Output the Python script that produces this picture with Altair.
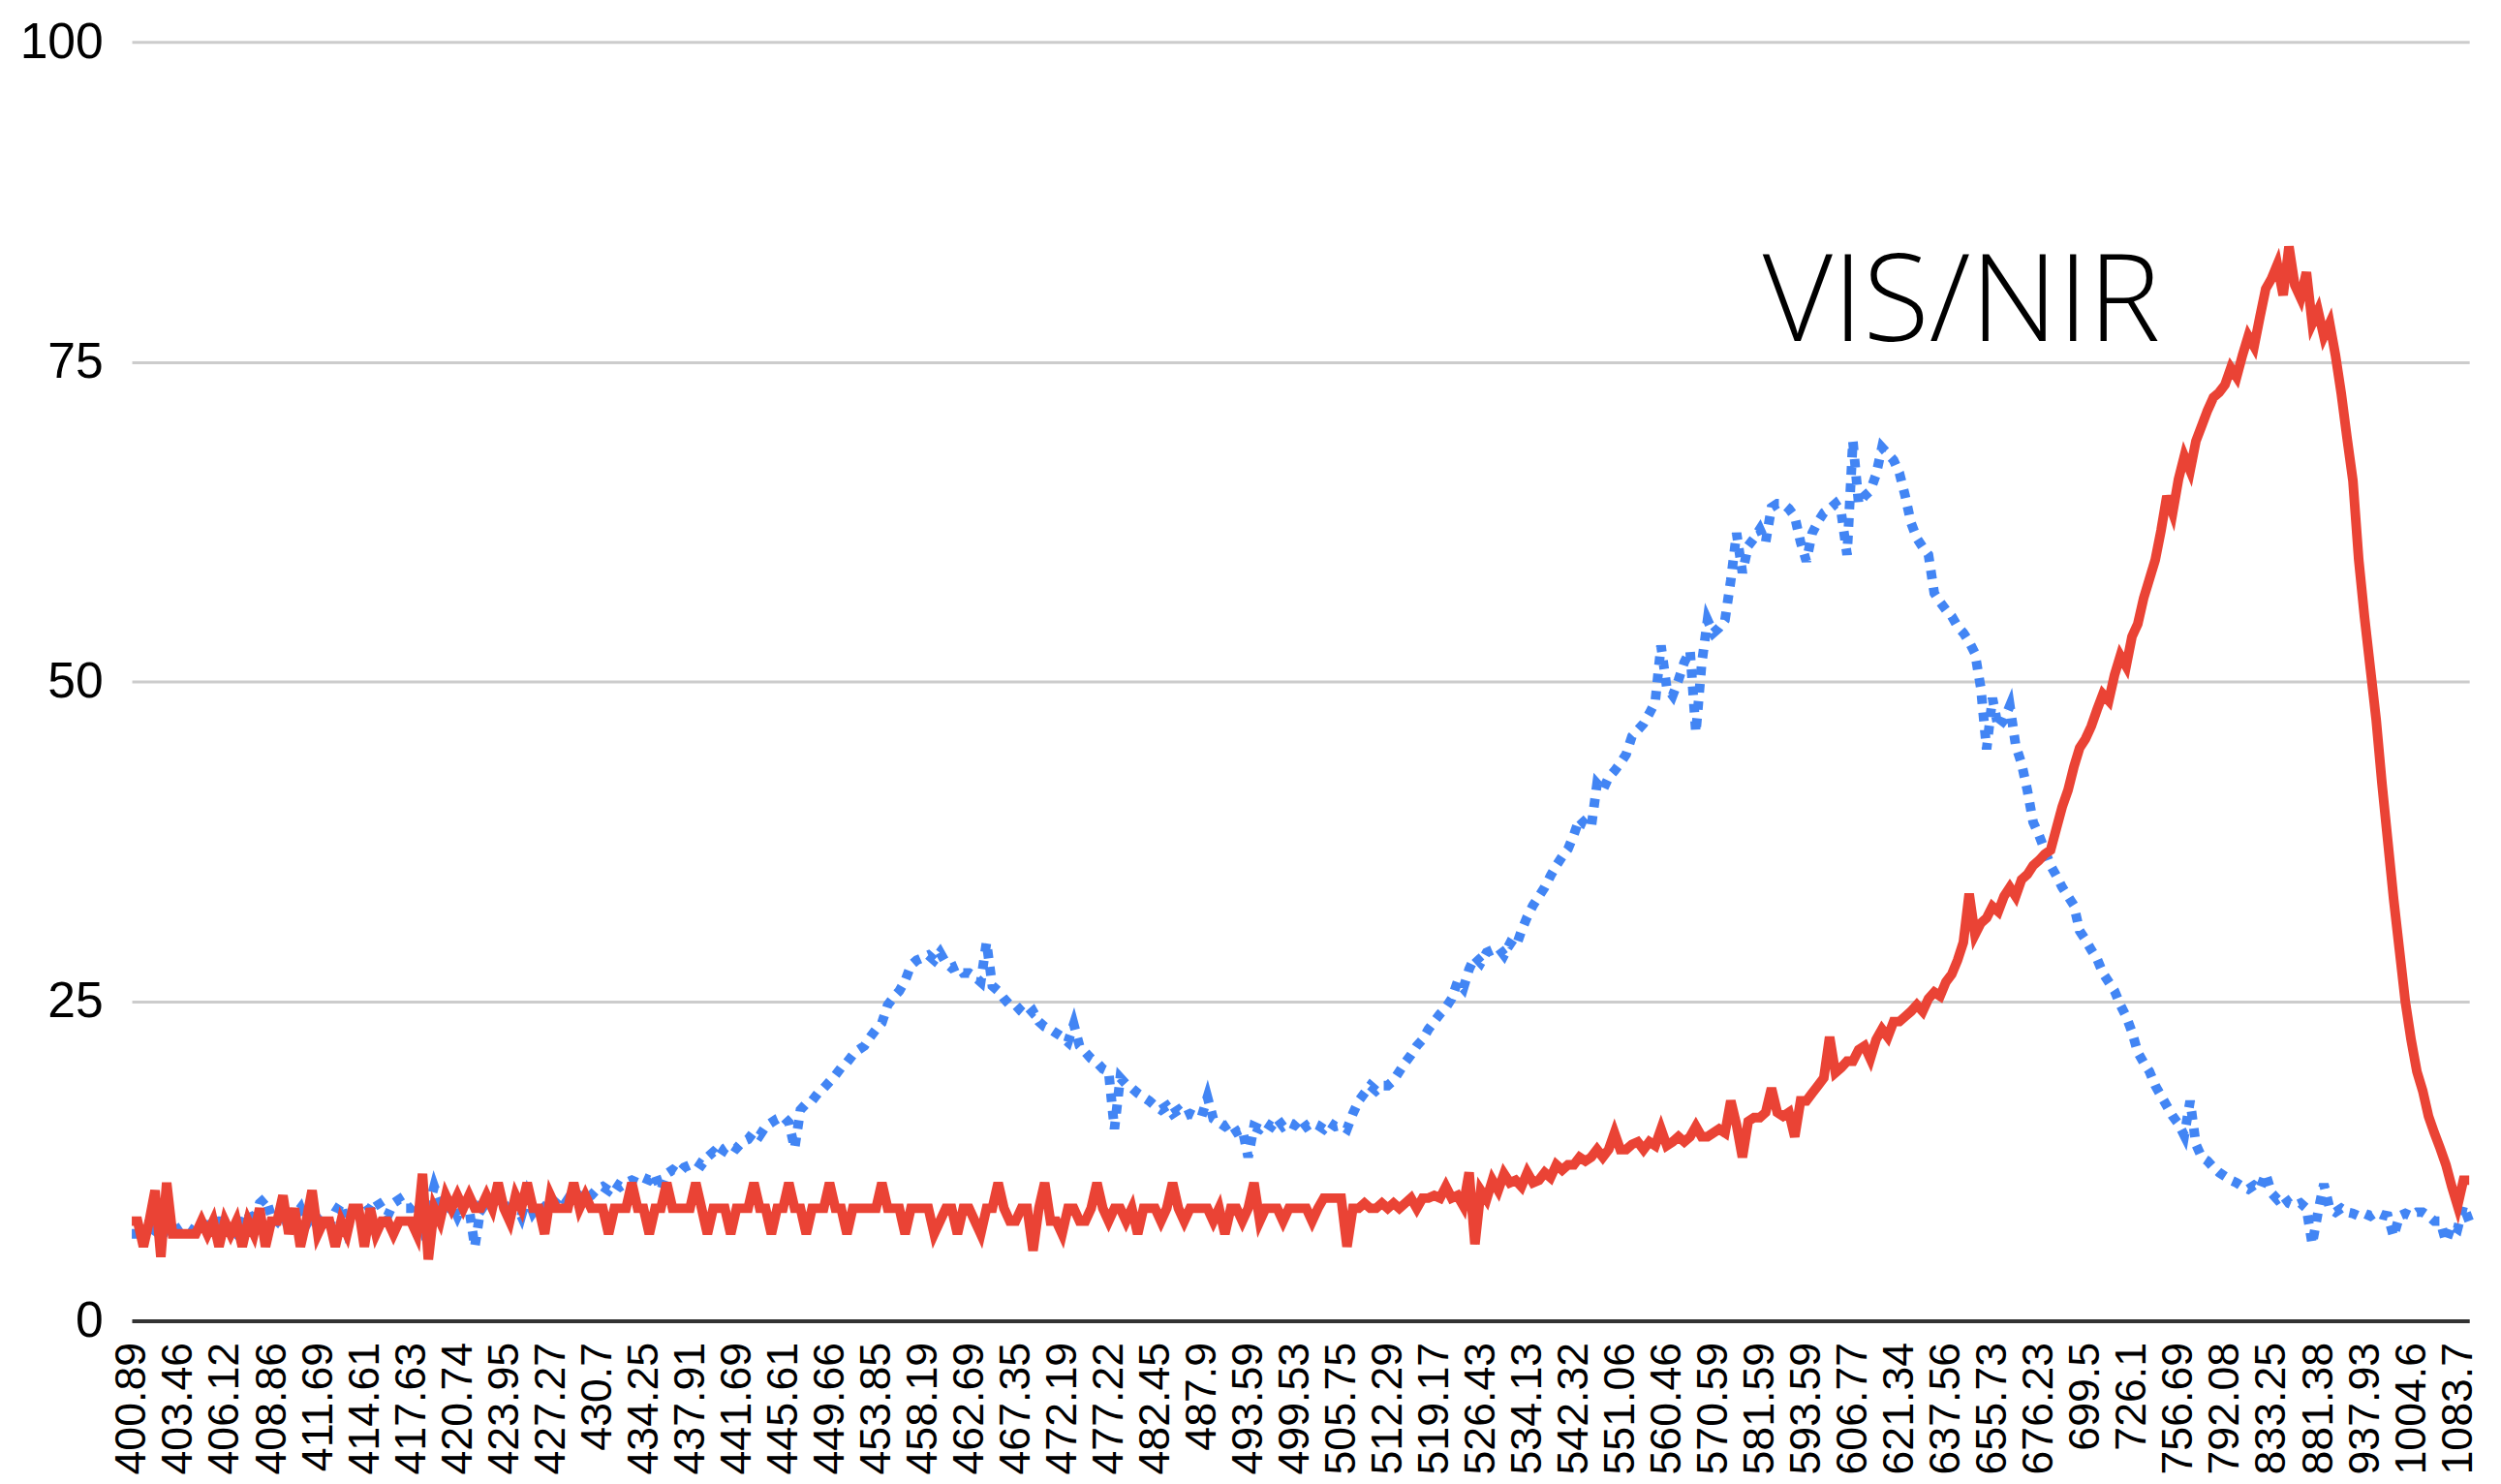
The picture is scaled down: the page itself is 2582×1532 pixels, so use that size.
import altair as alt
import pandas as pd

# Category labels shown on the x axis (every 8th sample)
x_labels = [
    "400.89", "403.46", "406.12", "408.86", "411.69", "414.61", "417.63", "420.74",
    "423.95", "427.27", "430.7", "434.25", "437.91", "441.69", "445.61", "449.66",
    "453.85", "458.19", "462.69", "467.35", "472.19", "477.22", "482.45", "487.9",
    "493.59", "499.53", "505.75", "512.29", "519.17", "526.43", "534.13", "542.32",
    "551.06", "560.46", "570.59", "581.59", "593.59", "606.77", "621.34", "637.56",
    "655.73", "676.23", "699.5", "726.1", "756.69", "792.08", "833.25", "881.38",
    "937.93", "1004.6", "1083.7",
]
STEP = 8  # samples per labelled category

# Blue dotted series (VIS)
vis = [
    6.8, 6.8, 7.5, 6.5, 7.2, 6.5, 7.2, 7.2,
    7.2, 7.5, 7.2, 6.8, 7.2, 7.5, 7.5, 7.8,
    7.8, 7.2, 6.8, 8.2, 8.5, 7.5, 9.2, 9.6,
    8.2, 7.8, 8.5, 7.2, 8.2, 8.8, 7.5, 8.2,
    7.8, 8.2, 7.5, 8.5, 9.2, 7.2, 8.2, 8.8,
    8.5, 8.8, 9.5, 8.8, 8.2, 9.2, 9.5, 8.8,
    8.8, 9.2, 7.5, 8.8, 10.5, 9.2, 8.5, 9.2,
    8.2, 9.2, 8.8, 5.8, 8.8, 8.5, 9.2, 9.5,
    9.2, 8.5, 9.2, 8.2, 9.8, 8.5, 9.2, 8.8,
    8.5, 9.2, 8.8, 9.5, 9.2, 9.8, 9.5, 9.8,
    10.3, 10.5, 10.2, 10.8, 10.5, 10.8, 11.0, 10.8,
    11.2, 11.0, 11.5, 10.2, 11.5, 11.8, 11.5, 12.0,
    12.2, 12.5, 12.2, 12.8, 13.2, 12.8, 13.5, 13.8,
    13.5, 14.0, 14.2, 14.8, 14.5, 15.2, 15.5, 15.8,
    16.0, 15.5, 13.5, 16.5, 17.0, 17.2, 17.8, 18.2,
    18.7, 19.2, 19.8, 20.2, 20.8, 21.2, 21.5, 22.2,
    22.8, 23.3, 24.7, 25.3, 25.8, 26.6, 27.8, 28.2,
    28.4, 28.6, 28.2, 28.8, 28.0, 27.6, 27.8, 27.2,
    27.2, 26.9, 26.5, 29.6, 26.2, 25.8, 25.2, 24.7,
    24.7, 24.2, 23.8, 24.2, 23.4, 23.0, 22.8, 22.5,
    22.2, 21.8, 23.2, 21.5, 21.0, 20.5, 20.2, 19.7,
    19.5, 15.0, 19.0, 18.5, 18.2, 17.8, 17.5, 17.2,
    16.8, 16.5, 16.8, 16.2, 16.5, 16.0, 16.2, 16.0,
    16.0, 17.5, 15.8, 15.5, 15.2, 15.5, 14.8, 15.0,
    12.8, 15.2, 15.0, 15.5, 15.2, 15.8, 15.2, 15.5,
    15.3, 15.8, 15.2, 15.5, 15.3, 15.0, 15.5, 15.2,
    15.3, 15.0, 16.2, 17.2, 17.8, 18.4, 18.0, 18.4,
    18.4, 18.8, 19.5, 20.2, 20.8, 21.5, 22.0, 22.8,
    23.4, 24.0, 24.5, 25.2, 26.5, 26.0, 27.5, 28.5,
    28.0, 28.8, 29.0, 29.2, 28.6, 29.5, 29.2, 30.5,
    31.6, 32.5, 33.2, 33.9, 34.8, 35.6, 36.3, 36.9,
    38.0, 39.3, 38.8, 38.6, 42.0, 41.5, 42.5, 43.0,
    43.6, 44.3, 45.7, 46.2, 46.7, 47.5, 48.4, 52.8,
    49.5, 48.9, 50.1, 51.5, 52.4, 46.0, 51.4, 54.8,
    53.8, 54.2, 54.8, 57.9, 61.6, 58.5, 60.6, 61.2,
    61.9, 60.9, 63.6, 63.9, 63.9, 63.5, 62.9, 60.9,
    59.4, 61.6, 62.5, 63.2, 63.5, 63.9, 63.2, 59.9,
    68.8, 63.9, 64.5, 64.9, 66.2, 68.3, 67.8, 67.3,
    66.3, 64.5, 62.4, 61.2, 60.5, 59.9, 56.9, 56.2,
    55.6, 55.1, 54.3, 53.8, 53.1, 52.2, 49.5, 44.7,
    48.7, 46.4, 47.0, 48.1, 45.0, 43.6, 41.5, 39.0,
    38.0, 36.8, 35.6, 34.8, 33.9, 33.2, 32.5, 30.5,
    29.8, 29.0, 28.3, 27.2, 26.5, 25.8, 24.7, 23.8,
    22.6, 21.0, 20.2, 19.5, 18.4, 17.6, 16.8, 16.0,
    15.4, 14.5, 17.2, 13.8, 12.8, 12.5, 12.0, 11.6,
    11.3, 11.0, 10.8, 10.5, 10.3, 10.6, 10.3, 11.5,
    10.0, 9.5, 9.8, 9.2, 9.0, 9.2, 8.8, 6.0,
    8.5, 10.7, 8.8, 8.5, 8.8, 8.5, 8.4, 8.2,
    8.4, 8.2, 8.5, 8.3, 8.2, 6.6, 8.2, 8.4,
    8.2, 8.5, 8.5, 8.2, 7.8, 7.8, 6.2, 7.5,
    7.2, 9.0, 7.8,
]

# Red solid series (NIR)
nir = [
    7.8, 7.8, 5.8, 7.8, 10.2, 5.0, 10.8, 6.8,
    6.8, 6.8, 6.8, 6.8, 7.8, 6.8, 7.8, 5.8,
    7.8, 6.8, 7.8, 5.8, 7.8, 6.8, 8.8, 5.8,
    7.8, 7.8, 9.8, 6.8, 8.8, 5.8, 7.8, 10.2,
    6.8, 7.8, 7.8, 5.8, 7.8, 6.8, 8.8, 8.8,
    5.8, 8.8, 6.8, 7.8, 7.8, 6.8, 7.8, 7.8,
    7.8, 6.8, 11.5, 4.8, 8.8, 7.8, 9.8, 8.8,
    9.8, 8.8, 9.8, 8.8, 8.8, 9.8, 8.8, 10.8,
    8.8, 7.8, 9.8, 8.8, 10.8, 8.8, 8.8, 6.8,
    9.8, 8.8, 8.8, 8.8, 10.8, 8.8, 9.8, 8.8,
    8.8, 8.8, 6.8, 8.8, 8.8, 8.8, 10.8, 8.8,
    8.8, 6.8, 8.8, 8.8, 10.8, 8.8, 8.8, 8.8,
    8.8, 10.8, 8.8, 6.8, 8.8, 8.8, 8.8, 6.8,
    8.8, 8.8, 8.8, 10.8, 8.8, 8.8, 6.8, 8.8,
    8.8, 10.8, 8.8, 8.8, 6.8, 8.8, 8.8, 8.8,
    10.8, 8.8, 8.8, 6.8, 8.8, 8.8, 8.8, 8.8,
    8.8, 10.8, 8.8, 8.8, 8.8, 6.8, 8.8, 8.8,
    8.8, 8.8, 6.8, 7.8, 8.8, 8.8, 6.8, 8.8,
    8.8, 7.8, 6.8, 8.8, 8.8, 10.8, 8.8, 7.8,
    7.8, 8.8, 8.8, 5.5, 8.8, 10.8, 7.8, 7.8,
    6.8, 8.8, 8.8, 7.8, 7.8, 8.8, 10.8, 8.8,
    7.8, 8.8, 8.8, 7.8, 8.8, 6.8, 8.8, 8.8,
    8.8, 7.8, 8.8, 10.8, 8.8, 7.8, 8.8, 8.8,
    8.8, 8.8, 7.8, 8.8, 6.8, 8.8, 8.8, 7.8,
    8.8, 10.8, 7.8, 8.8, 8.8, 8.8, 7.8, 8.8,
    8.8, 8.8, 8.8, 7.8, 8.8, 9.6, 9.6, 9.6,
    9.6, 5.8, 8.8, 8.8, 9.2, 8.8, 8.8, 9.2,
    8.8, 9.2, 8.8, 9.2, 9.6, 8.8, 9.6, 9.6,
    9.8, 9.6, 10.5, 9.6, 9.8, 9.0, 11.6, 6.0,
    10.2, 9.5, 11.0, 10.2, 11.5, 10.8, 11.0, 10.5,
    11.6, 10.8, 11.0, 11.6, 11.2, 12.2, 11.8, 12.2,
    12.2, 12.8, 12.5, 12.8, 13.4, 12.8, 13.4, 14.7,
    13.4, 13.4, 13.8, 14.0, 13.4, 14.0, 13.7, 15.0,
    13.7, 14.0, 14.4, 14.0, 14.4, 15.2, 14.4, 14.4,
    14.7, 15.0, 14.7, 17.2, 15.3, 12.8, 15.6, 15.9,
    15.9, 16.3, 18.2, 16.3, 16.0, 16.3, 14.4, 17.2,
    17.2, 17.8, 18.4, 19.0, 22.2, 19.4, 19.8, 20.3,
    20.3, 21.2, 21.5, 20.5, 22.0, 22.8, 22.2, 23.4,
    23.4, 23.8, 24.2, 24.7, 24.2, 25.2, 25.7, 25.4,
    26.5, 27.1, 28.2, 29.6, 33.4, 30.2, 31.1, 31.5,
    32.4, 32.0, 33.2, 33.9, 33.2, 34.5, 34.9, 35.6,
    36.0, 36.5, 36.8, 38.5, 40.2, 41.5, 43.3, 44.8,
    45.5, 46.5, 47.8, 49.0, 48.5, 50.5, 52.0, 51.2,
    53.5, 54.5, 56.5, 58.0, 59.5, 61.8, 64.5, 63.2,
    65.8, 67.6, 66.5, 68.8, 70.0, 71.2, 72.2, 72.6,
    73.2, 74.5, 73.8, 75.5, 77.0, 76.2, 78.5, 80.7,
    81.5, 82.6, 80.2, 84.0, 81.0, 80.0, 82.0, 78.0,
    79.0, 77.0, 78.0, 75.5, 72.5, 69.0, 65.7, 59.5,
    55.0, 51.0, 47.0, 42.0, 37.5, 33.0, 29.0, 25.0,
    22.0, 19.5, 18.0, 16.0, 14.7, 13.5, 12.2, 10.5,
    9.0, 11.0, 11.0,
]

y_ticks = [0, 25, 50, 75, 100]
annotation = {"text": "VIS/NIR", "idx": 280.5, "value": 76.6}

n = min(len(vis), len(nir))
df = pd.DataFrame({"idx": list(range(n)), "vis": vis[:n], "nir": nir[:n]})
ann_df = pd.DataFrame([annotation])

label_expr = "[" + ",".join("'" + s + "'" for s in x_labels) + "][round(datum.value / %d)]" % STEP
x_values = [i * STEP for i in range(len(x_labels))]

x_scale = alt.Scale(domain=[0, n - 1], nice=False, zero=False)
y_scale = alt.Scale(domain=[0, 100], nice=False)

x_axis = alt.Axis(
    values=x_values, labelExpr=label_expr, labelAngle=270,
    labelFont="Liberation Sans", labelFontSize=45, labelColor="#000000",
    labelPadding=22, ticks=False, grid=False, domainColor="#333333",
    domainWidth=4, title=None, labelOverlap=False, labelFlush=False,
)
y_axis = alt.Axis(
    values=y_ticks, grid=True, gridColor="#cccccc", gridWidth=3,
    domain=False, ticks=False, labelFont="Liberation Sans", labelFontSize=52,
    labelColor="#000000", labelPadding=30, title=None,
)

base = alt.Chart(df)
blue = base.mark_line(
    color="#4285F4", strokeWidth=10, strokeDash=[9, 9], strokeCap="butt"
).encode(
    x=alt.X("idx:Q", scale=x_scale, axis=x_axis),
    y=alt.Y("vis:Q", scale=y_scale, axis=y_axis),
)
red = base.mark_line(color="#EA4335", strokeWidth=10).encode(
    x=alt.X("idx:Q", scale=x_scale),
    y=alt.Y("nir:Q", scale=y_scale),
)
label = alt.Chart(ann_df).mark_text(
    font="Open Sans", fontSize=126, fontWeight=300, align="left",
    baseline="alphabetic", color="#000000",
).encode(
    x=alt.X("idx:Q", scale=x_scale),
    y=alt.Y("value:Q", scale=y_scale),
    text="text:N",
)

chart = alt.layer(blue, red, label).properties(
    width=2431, height=1330,
    padding={"left": 12, "top": 4, "right": 5, "bottom": 0},
).configure_view(stroke=None)

chart.save("out.html", embed_options={"renderer": "svg", "actions": False})
